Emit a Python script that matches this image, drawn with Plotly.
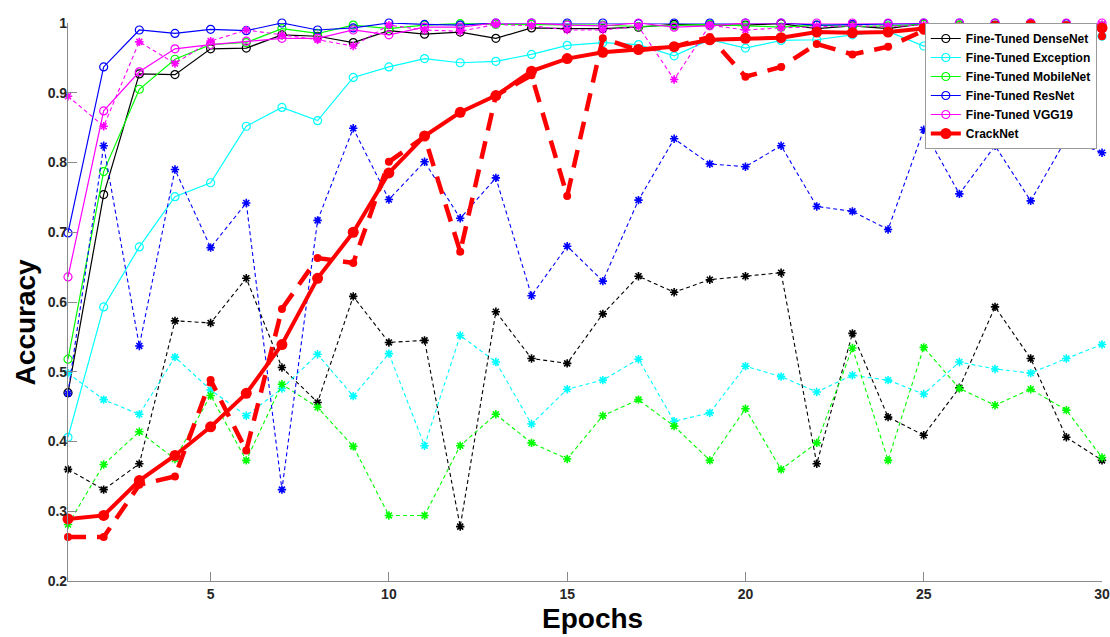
import plotly.graph_objects as go

epochs = list(range(1, 31))

densenet_train = [0.470, 0.754, 0.927, 0.926, 0.963, 0.964, 0.983, 0.981, 0.972, 0.989,
                  0.984, 0.987, 0.978, 0.993, 0.992, 0.992, 0.994, 0.998, 0.997, 0.997,
                  0.999, 0.992, 0.996, 0.992, 0.999, 0.997, 0.997, 0.996, 0.996, 0.993]
densenet_val = [0.360, 0.331, 0.368, 0.573, 0.570, 0.634, 0.506, 0.456, 0.608, 0.542,
                0.545, 0.278, 0.586, 0.519, 0.512, 0.583, 0.637, 0.614, 0.632, 0.637,
                0.642, 0.368, 0.555, 0.435, 0.409, 0.477, 0.593, 0.519, 0.406, 0.373]

exception_train = [0.406, 0.593, 0.679, 0.751, 0.771, 0.852, 0.879, 0.860, 0.922, 0.937,
                   0.949, 0.943, 0.945, 0.955, 0.968, 0.972, 0.969, 0.953, 0.976, 0.964,
                   0.975, 0.976, 0.983, 0.988, 0.967, 0.978, 0.982, 0.986, 0.984, 0.981]
exception_val = [0.498, 0.460, 0.439, 0.521, 0.474, 0.437, 0.476, 0.525, 0.465, 0.526,
                 0.394, 0.552, 0.514, 0.425, 0.475, 0.488, 0.518, 0.429, 0.441, 0.508,
                 0.493, 0.471, 0.495, 0.488, 0.468, 0.514, 0.504, 0.498, 0.519, 0.539]

mobilenet_train = [0.518, 0.787, 0.905, 0.948, 0.969, 0.972, 0.992, 0.985, 0.997, 0.992,
                   0.997, 0.999, 0.998, 0.998, 0.998, 0.997, 0.995, 0.996, 0.998, 0.996,
                   0.994, 0.997, 0.995, 0.996, 0.998, 0.997, 0.996, 0.997, 0.996, 0.996]
mobilenet_val = [0.281, 0.367, 0.414, 0.375, 0.466, 0.373, 0.482, 0.449, 0.393, 0.294,
                 0.294, 0.394, 0.439, 0.398, 0.375, 0.437, 0.460, 0.422, 0.373, 0.447,
                 0.360, 0.398, 0.534, 0.373, 0.535, 0.476, 0.452, 0.475, 0.445, 0.377]

resnet_train = [0.699, 0.937, 0.990, 0.985, 0.991, 0.989, 1.000, 0.990, 0.993, 1.000,
                0.998, 0.997, 1.000, 1.000, 1.000, 1.000, 0.999, 1.000, 1.000, 1.000,
                1.000, 0.997, 0.998, 0.999, 1.000, 1.000, 1.000, 1.000, 0.999, 0.992]
resnet_val = [0.469, 0.824, 0.537, 0.790, 0.678, 0.742, 0.331, 0.717, 0.849, 0.747,
              0.801, 0.720, 0.778, 0.609, 0.680, 0.630, 0.746, 0.834, 0.798, 0.794,
              0.824, 0.737, 0.730, 0.704, 0.847, 0.755, 0.824, 0.745, 0.834, 0.814]

vgg19_train = [0.636, 0.874, 0.930, 0.963, 0.969, 0.974, 0.978, 0.978, 0.990, 0.983,
               0.994, 0.994, 1.000, 1.000, 0.997, 0.996, 1.000, 0.994, 0.996, 1.000,
               1.000, 1.000, 1.000, 1.000, 1.000, 1.000, 1.000, 1.000, 1.000, 1.000]
vgg19_val = [0.895, 0.852, 0.973, 0.942, 0.974, 0.990, 0.983, 0.976, 0.967, 0.997,
             0.990, 0.988, 0.998, 0.996, 0.990, 0.990, 0.995, 0.919, 0.997, 0.990,
             0.993, 0.995, 0.996, 0.995, 0.997, 0.994, 0.995, 0.996, 0.997, 0.998]

cracknet_train = [0.289, 0.294, 0.344, 0.380, 0.421, 0.469, 0.539, 0.634, 0.700, 0.785,
                  0.838, 0.872, 0.896, 0.931, 0.949, 0.958, 0.962, 0.966, 0.976, 0.978,
                  0.979, 0.987, 0.986, 0.987, 0.992, 0.993, 0.995, 0.997, 0.995, 0.993]
cracknet_val = [0.263, 0.263, 0.338, 0.350, 0.488, 0.387, 0.590, 0.663, 0.656, 0.801,
                0.837, 0.672, 0.896, 0.925, 0.752, 0.978, 0.961, 0.966, 0.980, 0.923,
                0.937, 0.970, 0.955, 0.966, 0.989, 0.995, 0.995, 0.997, 0.995, 0.981]

x_ticks = [5, 10, 15, 20, 25, 30]
y_ticks = [0.2, 0.3, 0.4, 0.5, 0.6, 0.7, 0.8, 0.9, 1.0]
y_tick_labels = ["0.2", "0.3", "0.4", "0.5", "0.6", "0.7", "0.8", "0.9", "1"]

models = [
    ("Fine-Tuned DenseNet", "#000000", densenet_train, densenet_val),
    ("Fine-Tuned Exception", "#00FFFF", exception_train, exception_val),
    ("Fine-Tuned MobileNet", "#00FF00", mobilenet_train, mobilenet_val),
    ("Fine-Tuned ResNet", "#0000FF", resnet_train, resnet_val),
    ("Fine-Tuned VGG19", "#FF00FF", vgg19_train, vgg19_val),
]

FONT = "Arial, Liberation Sans, sans-serif"
fig = go.Figure()

for name, col, tr, va in models:
    fig.add_trace(go.Scatter(
        x=epochs, y=tr, name=name, mode="lines+markers",
        line=dict(color=col, width=1.2),
        marker=dict(symbol="circle-open", size=8, color=col, line=dict(width=1.2, color=col)),
        cliponaxis=False,
    ))
    fig.add_trace(go.Scatter(
        x=epochs, y=va, name=name + " val", mode="lines+markers", showlegend=False,
        line=dict(color=col, width=1.1, dash="4px,3px"),
        marker=dict(symbol="asterisk-open", size=7, color=col, line=dict(width=1.6, color=col)),
        cliponaxis=False,
    ))

fig.add_trace(go.Scatter(
    x=epochs, y=cracknet_val, name="CrackNet val", mode="lines+markers", showlegend=False,
    line=dict(color="#FF0000", width=4.5, dash="18px,11px"),
    marker=dict(symbol="circle", size=8, color="#FF0000"),
    cliponaxis=False,
))
fig.add_trace(go.Scatter(
    x=epochs, y=cracknet_train, name="CrackNet", mode="lines+markers",
    line=dict(color="#FF0000", width=4),
    marker=dict(symbol="circle", size=11, color="#FF0000"),
    cliponaxis=False,
))

# plot area at page x 67.7-1102, y 22.7-580.7 (body margin removed below)
fig.update_layout(
    width=1110, height=637,
    margin=dict(l=68, r=8, t=23, b=56, autoexpand=False),
    plot_bgcolor="white", paper_bgcolor="white",
    font=dict(family=FONT, size=14, color="#262626"),
    showlegend=True,
    legend=dict(
        x=0.995, y=1.0, xanchor="right", yanchor="top",
        bgcolor="white", bordercolor="#9a9a9a", borderwidth=1,
        font=dict(family=FONT, size=12, color="#000000", weight="bold"),
        tracegroupgap=0, itemwidth=30,
    ),
    xaxis=dict(
        range=[1, 30], tickvals=x_ticks, automargin=False, ticklabeloverflow="allow",
        showgrid=False, zeroline=False,
        showline=True, linecolor="#8a8a8a", linewidth=1.2,
        ticks="inside", ticklen=9, tickcolor="#8a8a8a", tickwidth=1,
        tickfont=dict(family=FONT, size=14, color="#262626", weight="bold"),
    ),
    yaxis=dict(
        range=[0.2, 1.0], tickvals=y_ticks, ticktext=y_tick_labels, automargin=False,
        showgrid=False, zeroline=False,
        showline=True, linecolor="#8a8a8a", linewidth=1.2,
        ticks="inside", ticklen=9, tickcolor="#8a8a8a", tickwidth=1,
        tickfont=dict(family=FONT, size=14, color="#262626", weight="bold"),
        ticklabelstandoff=-3,
    ),
    annotations=[
        dict(text="Epochs", xref="paper", yref="paper", x=0.507, y=-0.067,
             xanchor="center", yanchor="middle", showarrow=False,
             font=dict(family=FONT, size=28, color="#000000", weight="bold")),
        dict(text="Accuracy", xref="paper", yref="paper", x=-0.041, y=0.4645,
             xanchor="center", yanchor="middle", showarrow=False, textangle=-90,
             font=dict(family=FONT, size=28, color="#000000", weight="bold")),
    ],
)

fig.write_html(
    "out.html",
    config={"displayModeBar": False},
    post_script="document.body.style.margin='0';document.body.style.overflow='hidden';",
)
